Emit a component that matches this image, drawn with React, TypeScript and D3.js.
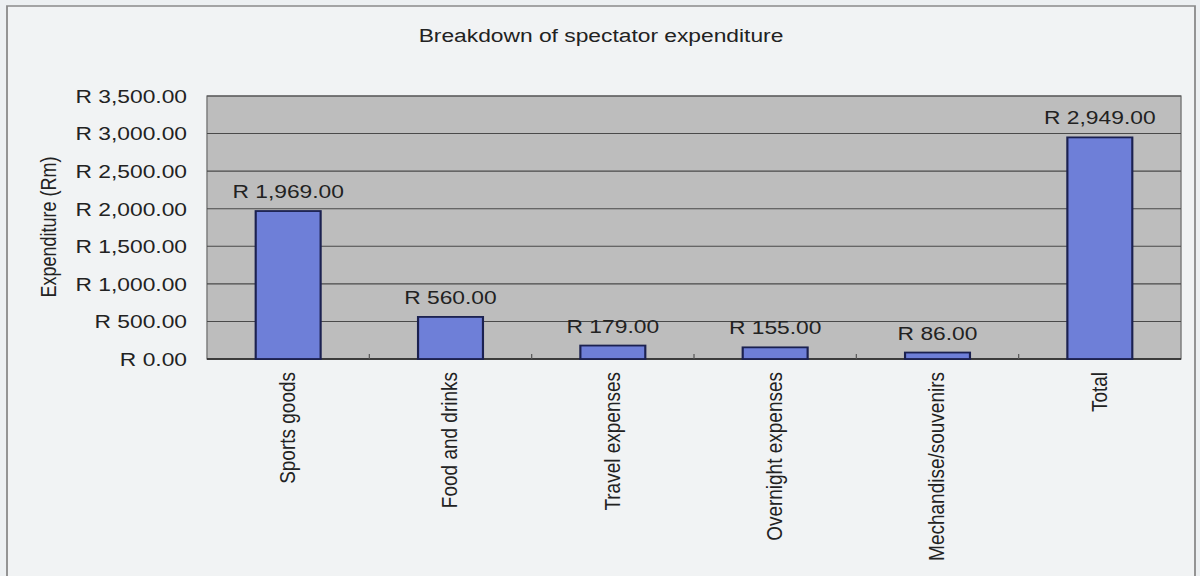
import React from "react";
import * as d3 from "d3";

const categories = [
  "Sports goods",
  "Food and drinks",
  "Travel expenses",
  "Overnight expenses",
  "Mechandise/souvenirs",
  "Total",
];
const values = [1969, 560, 179, 155, 86, 2949];
const yTicks = [0, 500, 1000, 1500, 2000, 2500, 3000, 3500];
const title = "Breakdown of spectator expenditure";
const yTitle = "Expenditure (Rm)";

const W = 1200;
const H = 576;
const SX = 1.2; // horizontal stretch of the scanned chart
const CW = W / SX;

const plot = { left: 207 / SX, right: 1181 / SX, top: 96, bottom: 359 };
const font = "Arial, 'Liberation Sans', Helvetica, sans-serif";
const money = (v: number) => "R " + d3.format(",.2f")(v);

export default function App() {
  const x = d3
    .scaleBand<string>()
    .domain(categories)
    .range([plot.left, plot.right])
    .paddingInner(0.6)
    .paddingOuter(0.3);
  const step = x.step();
  const y = d3.scaleLinear().domain([0, 3500]).range([plot.bottom, plot.top]);

  const boundaries = d3.range(1, categories.length).map(
    (i) => plot.left + step * i
  );

  return (
    <svg
      width={W}
      height={H}
      style={{ position: "absolute", left: 0, top: 0, background: "#edf0f2" }}
    >
      <rect x={0} y={0} width={W} height={H} fill="#edf0f2" />
      <g transform={`scale(${SX},1)`}>
        {/* outer chart frame */}
        <rect
          x={7 / SX}
          y={6}
          width={(1195 - 7) / SX}
          height={H + 20}
          fill="#f1f3f4"
          stroke="#8a8a8a"
          strokeWidth={1.5}
        />
        {/* title */}
        <text
          x={601 / SX}
          y={42}
          textAnchor="middle"
          fontFamily={font}
          fontSize={19}
          fill="#222"
        >
          {title}
        </text>
        {/* plot area */}
        <rect
          x={plot.left}
          y={plot.top}
          width={plot.right - plot.left}
          height={plot.bottom - plot.top}
          fill="#bdbdbd"
          stroke="#7a7a7a"
          strokeWidth={1.2}
        />
        {yTicks.map((t) => (
          <line
            key={"g" + t}
            x1={plot.left}
            x2={plot.right}
            y1={y(t)}
            y2={y(t)}
            stroke="#4a4a4a"
            strokeWidth={1.1}
          />
        ))}
        {yTicks.map((t) => (
          <text
            key={"t" + t}
            x={187 / SX}
            y={y(t)}
            dy="0.36em"
            textAnchor="end"
            fontFamily={font}
            fontSize={19}
            fill="#222"
          >
            {money(t)}
          </text>
        ))}
        {/* axis line */}
        <line
          x1={plot.left}
          x2={plot.right}
          y1={plot.bottom}
          y2={plot.bottom}
          stroke="#2a2a2a"
          strokeWidth={1.5}
        />
        {boundaries.map((b, i) => (
          <line
            key={"b" + i}
            x1={b}
            x2={b}
            y1={plot.bottom}
            y2={plot.bottom - 5}
            stroke="#555"
            strokeWidth={1}
          />
        ))}
        {/* bars */}
        {categories.map((c, i) => (
          <rect
            key={"bar" + c}
            x={x(c)!}
            y={y(values[i])}
            width={x.bandwidth()}
            height={plot.bottom - y(values[i])}
            fill="#6e7fd8"
            stroke="#1b2150"
            strokeWidth={1.8}
          />
        ))}
        {/* data labels */}
        {categories.map((c, i) => (
          <text
            key={"lab" + c}
            x={x(c)! + x.bandwidth() / 2}
            y={y(values[i]) - 13}
            textAnchor="middle"
            fontFamily={font}
            fontSize={19}
            fill="#222"
          >
            {money(values[i])}
          </text>
        ))}
        {/* category labels */}
        {categories.map((c) => {
          const cx = x(c)! + x.bandwidth() / 2;
          return (
            <text
              key={"cat" + c}
              transform={`translate(${cx - 1},372) rotate(-90)`}
              dy="0.35em"
              textAnchor="end"
              fontFamily={font}
              fontSize={19}
              fill="#222"
            >
              {c}
            </text>
          );
        })}
        {/* y axis title */}
        <text
          transform={`translate(${48 / SX},227) rotate(-90)`}
          dy="0.35em"
          textAnchor="middle"
          fontFamily={font}
          fontSize={18}
          fill="#222"
        >
          {yTitle}
        </text>
      </g>
    </svg>
  );
}
